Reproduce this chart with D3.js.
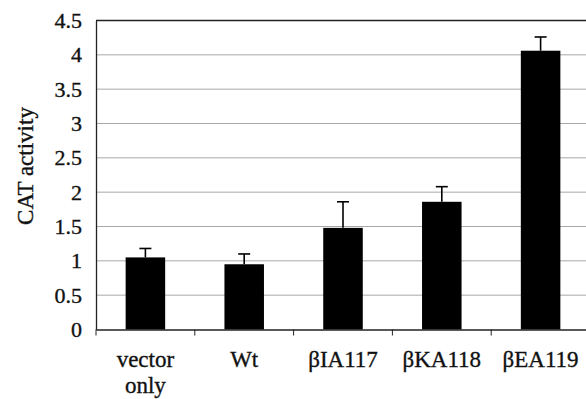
<!DOCTYPE html>
<html>
<head>
<meta charset="utf-8">
<script src="https://cdn.jsdelivr.net/npm/d3@7"></script>
<style>
  body { margin: 0; background: #fff; }
  svg { display: block; }
  svg text { font-family: "Liberation Serif", "Times New Roman", serif !important; stroke: #111; stroke-width: 0.35px; }
</style>
</head>
<body>
<svg id="chart" width="586" height="399"></svg>
<script>
const categories = [['vector', 'only'], ['Wt'], ['βIA117'], ['βKA118'], ['βEA119']];
const values = [1.05, 0.95, 1.48, 1.86, 4.06];
const errors = [0.13, 0.15, 0.38, 0.22, 0.20];
const yTicks = [0, 0.5, 1, 1.5, 2, 2.5, 3, 3.5, 4, 4.5];

const margin = { top: 20.5, right: -4, bottom: 69.5, left: 96 };
const width = 586 - margin.left - margin.right;
const height = 399 - margin.top - margin.bottom;

const svg = d3.select('svg#chart')
  .append('g')
  .attr('transform', `translate(${margin.left},${margin.top})`);

const names = categories.map(c => c.join(' '));

const x = d3.scaleBand()
  .domain(names)
  .range([0, width])
  .paddingInner(0.6)
  .paddingOuter(0.3);

const y = d3.scaleLinear()
  .domain([0, 4.5])
  .range([height, 0]);

// gridlines
svg.append('g')
  .selectAll('line')
  .data(yTicks.slice(1, -1))
  .enter()
  .append('line')
  .attr('x1', 0)
  .attr('x2', width)
  .attr('y1', d => y(d))
  .attr('y2', d => y(d))
  .attr('stroke', '#a8a8a8')
  .attr('stroke-width', 1);

// top frame
svg.append('line')
  .attr('x1', 0).attr('x2', width)
  .attr('y1', y(4.5)).attr('y2', y(4.5))
  .attr('stroke', '#222').attr('stroke-width', 1.3);

// bars
svg.selectAll('.bar')
  .data(values)
  .enter()
  .append('rect')
  .attr('class', 'bar')
  .attr('x', (d, i) => x(names[i]))
  .attr('y', d => y(d))
  .attr('width', x.bandwidth())
  .attr('height', d => height - y(d))
  .attr('fill', '#000');

// error bars (upper only)
const err = svg.append('g').attr('stroke', '#000').attr('stroke-width', 1.6);
values.forEach((v, i) => {
  const cx = x(names[i]) + x.bandwidth() / 2;
  err.append('line')
    .attr('x1', cx).attr('x2', cx)
    .attr('y1', y(v)).attr('y2', y(v + errors[i]));
  err.append('line')
    .attr('x1', cx - 6).attr('x2', cx + 6)
    .attr('y1', y(v + errors[i])).attr('y2', y(v + errors[i]));
});

// y axis
const yAxis = svg.append('g')
  .call(d3.axisLeft(y).tickValues(yTicks).tickSize(0).tickPadding(14).tickFormat(d3.format('')));
yAxis.attr('font-size', null).attr('font-family', null);
yAxis.select('.domain').attr('stroke', '#222').attr('stroke-width', 1.3);
yAxis.selectAll('text')
  .style('font-size', '22px')
  .attr('fill', '#111');

// x axis
const xAxis = svg.append('g')
  .attr('transform', `translate(0,${height})`)
  .call(d3.axisBottom(x).tickSize(0).tickFormat(''));
xAxis.attr('font-size', null).attr('font-family', null);
xAxis.select('.domain').attr('stroke', '#222').attr('stroke-width', 1.3);

const step = x.step();
const boundaries = d3.range(names.length + 1).map(i => x(names[0]) - x.step() * x.paddingInner() / 2 + i * step);
xAxis.selectAll('.sep')
  .data(boundaries)
  .enter()
  .append('line')
  .attr('x1', d => d).attr('x2', d => d)
  .attr('y1', 0).attr('y2', 6)
  .attr('stroke', '#222').attr('stroke-width', 1);

const labels = xAxis.selectAll('.lbl')
  .data(categories)
  .enter()
  .append('text')
  .attr('x', (d, i) => x(names[i]) + x.bandwidth() / 2)
  .attr('y', 37)
  .attr('text-anchor', 'middle')
  .style('font-size', '23px')
  .attr('fill', '#111');
labels.selectAll('tspan')
  .data(d => d)
  .enter()
  .append('tspan')
  .attr('x', function () { return d3.select(this.parentNode).attr('x'); })
  .attr('dy', (d, i) => i === 0 ? 0 : 26)
  .text(d => d);

// y label
svg.append('text')
  .attr('transform', 'rotate(-90)')
  .attr('x', -166 + margin.top)
  .attr('y', 33 - margin.left)
  .attr('text-anchor', 'middle')
  .style('font-size', '23px')
  .attr('fill', '#111')
  .text('CAT activity');
</script>
</body>
</html>
